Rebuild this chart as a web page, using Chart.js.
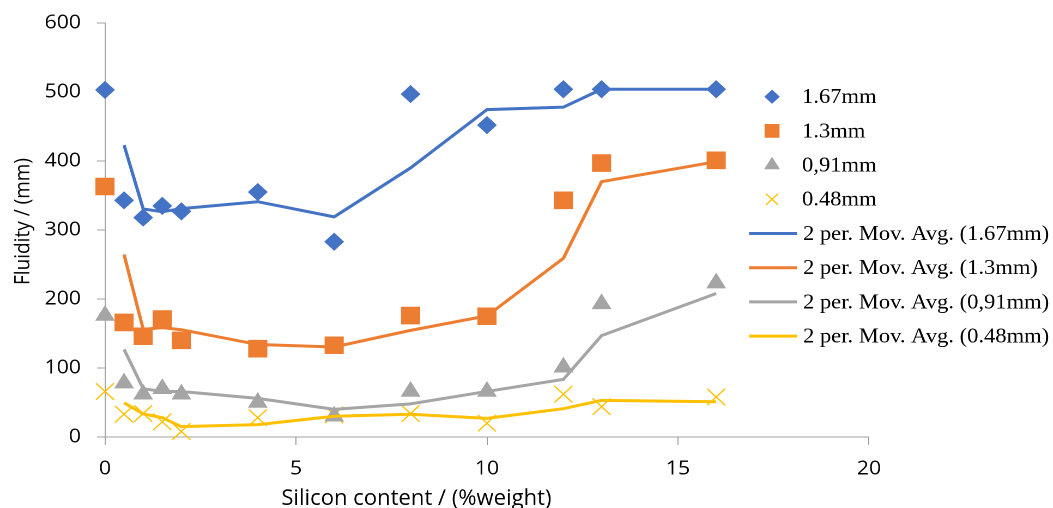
<!DOCTYPE html>
<html>
<head>
<meta charset="utf-8">
<script src="https://cdn.jsdelivr.net/npm/chart.js@4.4.1/dist/chart.umd.min.js"></script>
<style>
  html, body { margin: 0; padding: 0; background: #fff; overflow: hidden; }
  #c { display: block; transform-origin: 0 0; transform: scaleX(1.09); }
</style>
</head>
<body>
<canvas id="c" style="width:966px;height:508px"></canvas>
<script>
// Silicon content (% weight) of each alloy cast
const siliconContent = [0, 0.5, 1, 1.5, 2, 4, 6, 8, 10, 12, 13, 16];

// Measured fluidity (mm) for each channel thickness
const fluidity167 = [503, 343, 318, 335, 327, 355, 283, 497, 452, 504, 504, 504];
const fluidity130 = [363, 166, 146, 171, 140, 128, 133, 176, 175, 343, 397, 401];
const fluidity091 = [176, 78, 62, 70, 62, 50, 30, 66, 66, 101, 193, 223];
const fluidity048 = [66, 33, 34, 22, 8, 28, 32, 34, 20, 62, 44, 58];

const seriesLabels = ['1.67mm', '1.3mm', '0,91mm', '0.48mm'];
const xTickValues = [0, 5, 10, 15, 20];
const yTickValues = [0, 100, 200, 300, 400, 500, 600];
const xAxisTitle = 'Silicon content / (%weight)';
const yAxisTitle = 'Fluidity / (mm)';

const seriesValues = [fluidity167, fluidity130, fluidity091, fluidity048];
const seriesColors = ['#4472C4', '#ED7D31', '#A5A5A5', '#FFC000'];
const seriesStyles = [
  { pointStyle: 'rectRot', radius: 8.4, legendRadius: 6.4, borderWidth: 1 },
  { pointStyle: 'rect', radius: 11.7, legendRadius: 9, borderWidth: 1 },
  { pointStyle: 'triangle', radius: 9.5, legendRadius: 7.4, borderWidth: 1 },
  { pointStyle: 'crossRot', radius: 11.7, legendRadius: 7.8, borderWidth: 1.3 }
];

function toPoints(values) {
  return values.map((v, i) => ({ x: siliconContent[i], y: v }));
}

// 2-period moving average, plotted from the second sample onwards
function movingAverage(values) {
  const out = [];
  for (let i = 1; i < values.length; i++) {
    out.push({ x: siliconContent[i], y: (values[i - 1] + values[i]) / 2 });
  }
  return out;
}

const markerSets = seriesValues.map((vals, k) => ({
  label: seriesLabels[k],
  data: toPoints(vals),
  showLine: false,
  clip: false,
  backgroundColor: seriesColors[k],
  borderColor: seriesColors[k],
  pointStyle: seriesStyles[k].pointStyle,
  pointRadius: seriesStyles[k].radius,
  pointBorderWidth: seriesStyles[k].borderWidth,
  legendRadius: seriesStyles[k].legendRadius,
  order: 2
}));

const trendSets = seriesValues.map((vals, k) => ({
  label: '2 per. Mov. Avg. (' + seriesLabels[k] + ')',
  data: movingAverage(vals),
  showLine: true,
  clip: false,
  borderColor: seriesColors[k],
  backgroundColor: seriesColors[k],
  borderWidth: 3,
  pointRadius: 0,
  tension: 0,
  isTrend: true,
  order: 1
}));

const sansFamily = '"Open Sans", "Liberation Sans", sans-serif';

// Axis titles, placed as in the original workbook chart
const axisTitles = {
  id: 'axisTitles',
  afterDraw(chart) {
    const ctx = chart.ctx;
    ctx.save();
    ctx.fillStyle = '#000';
    ctx.font = '22px ' + sansFamily;
    ctx.textAlign = 'center';
    ctx.textBaseline = 'alphabetic';
    ctx.save();
    ctx.translate(382, 505);
    ctx.scale(0.92, 1);
    ctx.fillText(xAxisTitle, 0, 0);
    ctx.restore();

    ctx.font = '19px ' + sansFamily;
    ctx.textBaseline = 'middle';
    ctx.translate(21.5, 221.5);
    ctx.rotate(-Math.PI / 2);
    ctx.fillText(yAxisTitle, 0, 0);
    ctx.restore();
  }
};

// Legend at the right, overlapping the plot's right margin
const sideLegend = {
  id: 'sideLegend',
  afterDraw(chart) {
    const ctx = chart.ctx;
    const sets = chart.data.datasets;
    const top = 96.7, step = 34.2;
    ctx.save();
    ctx.font = '20.7px "Liberation Serif", "Times New Roman", serif';
    ctx.textBaseline = 'middle';
    ctx.textAlign = 'left';
    sets.forEach((ds, i) => {
      const y = top + i * step;
      if (ds.isTrend) {
        ctx.strokeStyle = ds.borderColor;
        ctx.lineWidth = 3;
        ctx.beginPath();
        ctx.moveTo(687.2, y);
        ctx.lineTo(731.2, y);
        ctx.stroke();
        ctx.fillStyle = '#000';
        ctx.fillText(ds.label, 736.7, y + 1);
      } else {
        ctx.fillStyle = ds.backgroundColor;
        ctx.strokeStyle = ds.borderColor;
        ctx.lineWidth = ds.pointBorderWidth;
        Chart.helpers.drawPoint(ctx, {
          pointStyle: ds.pointStyle,
          radius: ds.legendRadius,
          rotation: 0,
          borderWidth: ds.pointBorderWidth
        }, 708.3, y);
        ctx.fillStyle = '#000';
        ctx.fillText(ds.label, 735.8, y + 1);
      }
    });
    ctx.restore();
  }
};

const tickFont = { family: sansFamily, size: 19.5 };

new Chart(document.getElementById('c'), {
  type: 'scatter',
  data: { datasets: [...markerSets, ...trendSets] },
  options: {
    responsive: false,
    devicePixelRatio: 2,
    animation: false,
    events: [],
    layout: { padding: { left: 0, right: 168.8, top: 23, bottom: 0 } },
    plugins: {
      legend: { display: false },
      tooltip: { enabled: false }
    },
    scales: {
      x: {
        type: 'linear',
        min: 0,
        max: 20,
        afterBuildTicks(scale) { scale.ticks = xTickValues.map(v => ({ value: v })); },
        afterFit(scale) { scale.height = 71; scale.paddingLeft = 0; scale.paddingRight = 0; },
        grid: { drawOnChartArea: false, drawTicks: true, tickLength: 8, color: '#A0A0A0' },
        border: { color: '#A0A0A0', width: 1 },
        ticks: { color: '#000', font: tickFont, padding: 12, maxRotation: 0 },
        title: { display: false }
      },
      y: {
        type: 'linear',
        min: 0,
        max: 600,
        afterBuildTicks(scale) { scale.ticks = yTickValues.map(v => ({ value: v })); },
        afterFit(scale) { scale.width = 96.3; scale.paddingTop = 0; scale.paddingBottom = 0; },
        grid: { drawOnChartArea: false, drawTicks: true, tickLength: 7.3, color: '#A0A0A0' },
        border: { color: '#A0A0A0', width: 1 },
        ticks: { color: '#000', font: tickFont, padding: 14.7 },
        title: { display: false }
      }
    }
  },
  plugins: [axisTitles, sideLegend]
});
</script>
</body>
</html>
